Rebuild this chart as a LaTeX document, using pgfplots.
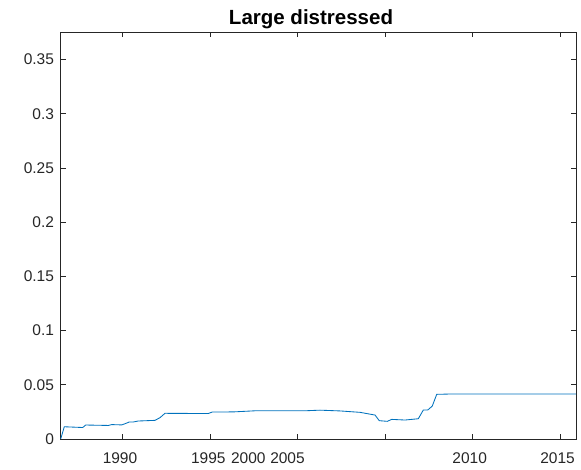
\documentclass[border=0pt]{standalone}
\usepackage{pgfplots}
\pgfplotsset{compat=1.18}
\usepackage{fontspec}
\setmainfont{Liberation Sans}
\definecolor{mblue}{rgb}{0,0.447,0.741}
\definecolor{mgray}{rgb}{0.15,0.15,0.15}
\begin{document}
\begin{tikzpicture}
\useasboundingbox (0,0) rectangle (581pt,469pt);
\begin{axis}[
  at={(60.5pt,30pt)}, anchor=south west,
  scale only axis, width=515.5pt, height=406.7pt,
  xmin=60.5, xmax=576, ymin=0, ymax=0.3752,
  axis line style={mgray, line width=0.7pt},
  every tick/.style={mgray, line width=0.7pt},
  tick align=inside, major tick length=5.2pt,
  xtick={122.7,210.2,297.7,385.2,472.7,560.2},
  xticklabels={},
  extra x ticks={120,208.3,248.3,287.5,469.7,557.5},
  extra x tick labels={1990,1995,2000,2005,2010,2015},
  extra x tick style={major tick length=0pt,
    xticklabel style={anchor=base, yshift=-24.3pt}},
  ytick={0,0.05,0.1,0.15,0.2,0.25,0.3,0.35},
  yticklabels={0,0.05,0.1,0.15,0.2,0.25,0.3,0.35},
  yticklabel style={anchor=east, xshift=-3pt},
  tick label style={font=\fontsize{15.5}{17}\selectfont, text=mgray},
  /pgf/number format/assume math mode=true,
  title={Large distressed},
  title style={font=\fontsize{20.5}{23}\selectfont\bfseries, anchor=base, at={(0.486,1)}, yshift=1.3pt},
]
\addplot[mblue, line width=0.85pt] coordinates {
(60.7,0)
(64.3,0.0113)
(82.7,0.0106)
(85.7,0.0129)
(108.3,0.0125)
(111.7,0.0133)
(121.7,0.0130)
(125,0.0141)
(129.3,0.0157)
(133.3,0.0157)
(138.3,0.0166)
(155,0.0172)
(160,0.0197)
(165,0.0237)
(208.3,0.0235)
(212.3,0.0249)
(233.3,0.0250)
(256.7,0.0261)
(306.7,0.0261)
(320,0.0266)
(340,0.0259)
(360,0.0246)
(375,0.0221)
(379.3,0.0169)
(387.3,0.0163)
(391.7,0.0181)
(405,0.0175)
(418.3,0.0187)
(423.3,0.0267)
(427.7,0.0267)
(432.3,0.0304)
(436.7,0.0412)
(450,0.0415)
(576,0.0415)
};
\end{axis}
\end{tikzpicture}
\end{document}
